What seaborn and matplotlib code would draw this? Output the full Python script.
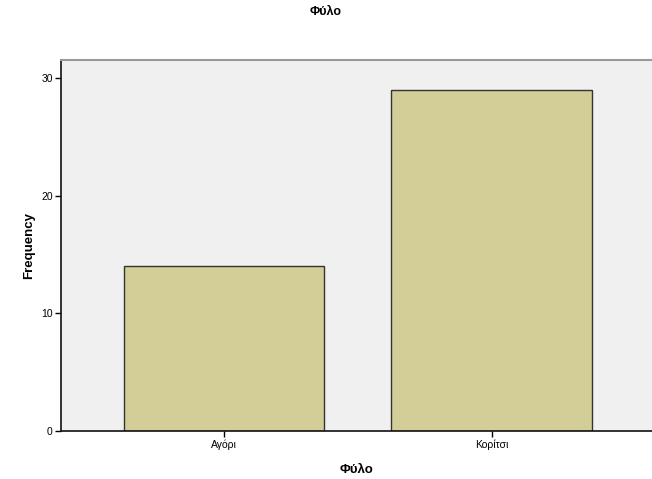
import matplotlib
matplotlib.use('Agg')
import matplotlib.pyplot as plt
import seaborn as sns
import pandas as pd

# data
categories = ['Αγόρι', 'Κορίτσι']
counts = [14, 29]
yticks = [0, 10, 20, 30]

df = pd.DataFrame({'Φύλο': categories, 'Frequency': counts})

sns.set_style('white')
plt.rcParams['font.family'] = ['Arial', 'Liberation Sans', 'DejaVu Sans']
plt.rcParams['text.color'] = 'black'
plt.rcParams['axes.labelcolor'] = 'black'
plt.rcParams['xtick.color'] = 'black'
plt.rcParams['ytick.color'] = 'black'

fig = plt.figure(figsize=(6.52, 4.79), dpi=100)
ax = fig.add_axes([61 / 652, 1 - 431 / 479, 1 - 61 / 652, (431 - 59.5) / 479])
ax.set_facecolor('#F0F0F0')

sns.barplot(data=df, x='Φύλο', y='Frequency', color='#D3CE97', saturation=1,
            width=0.75, edgecolor='#333333', linewidth=1.0, ax=ax)

ax.set_xlim(-0.61, 1.60)
ax.set_ylim(0, 31.56)
ax.set_yticks(yticks)
ax.tick_params(axis='both', labelsize=7.5, length=4, width=1, color='black',
               direction='out', pad=2, bottom=True, left=True)

for side in ['left', 'bottom']:
    ax.spines[side].set_color('#111111')
    ax.spines[side].set_linewidth(1.2)
ax.spines['top'].set_color('#999999')
ax.spines['top'].set_linewidth(1.5)
ax.spines['right'].set_visible(False)

ax.set_xlabel('Φύλο', fontsize=9.5, fontweight='bold', labelpad=10)
ax.set_ylabel('Frequency', fontsize=9.5, fontweight='bold', labelpad=4)
fig.suptitle('Φύλο', x=0.5, y=1 - 12 / 479, fontsize=9, fontweight='bold', va='center')

fig.savefig('out.png', dpi=100)
